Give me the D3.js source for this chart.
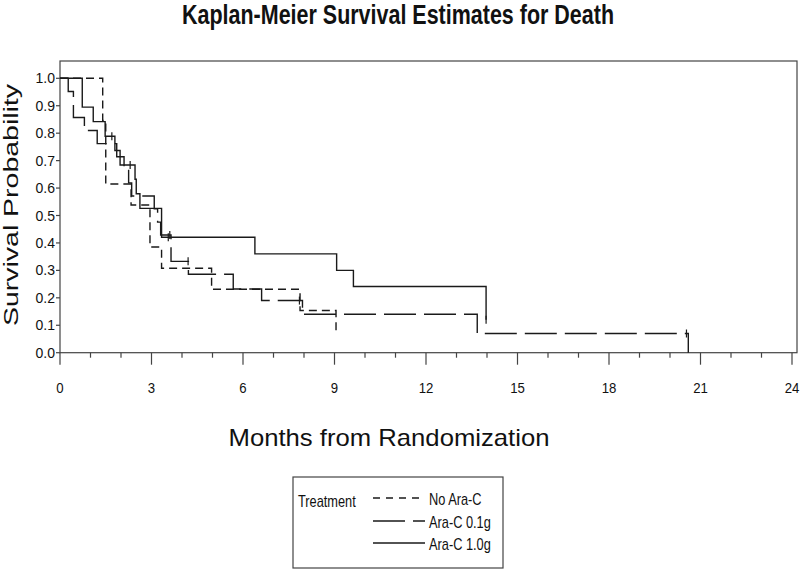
<!DOCTYPE html>
<html>
<head>
<meta charset="utf-8">
<script src="https://cdn.jsdelivr.net/npm/d3@7"></script>
<style>
  html, body { margin: 0; padding: 0; background: #fff; }
  svg { display: block; }
  text { font-family: "Liberation Sans", Arial, sans-serif; fill: #111; }
</style>
</head>
<body>
<svg id="chart" width="800" height="569"></svg>
<script>
// ---- data ----
const seriesNames = ["No Ara-C", "Ara-C 0.1g", "Ara-C 1.0g"];

const noAraTimes = [0, 1.40, 1.50, 2.33, 2.95, 3.33, 4.97, 7.87, 9.05];
const noAraSurv  = [1.0, 0.846, 0.615, 0.538, 0.385, 0.308, 0.231, 0.154, 0.077];
const noAraCens  = [];

const low01Times = [0, 0.27, 0.44, 0.80, 1.22, 1.86, 2.10, 2.25, 2.35, 3.09, 3.20, 3.30, 3.64, 4.21, 5.68, 6.61, 7.95, 13.68, 20.60];
const low01Surv  = [1.0, 0.952, 0.857, 0.810, 0.762, 0.714, 0.667, 0.619, 0.571, 0.524, 0.476, 0.429, 0.333, 0.286, 0.232, 0.190, 0.140, 0.070, 0.0];
const low01Cens  = [3.60, 4.20, 7.85, 20.54];

const high10Times = [0, 0.73, 1.09, 1.48, 1.80, 1.97, 2.46, 2.50, 2.62, 3.33, 6.39, 9.07, 9.62, 13.97];
const high10Surv  = [1.0, 0.895, 0.842, 0.789, 0.737, 0.684, 0.632, 0.579, 0.526, 0.421, 0.360, 0.300, 0.241, 0.120];
const high10Cens  = [1.70, 2.30, 3.55, 13.97];

const xMajorTicks = [0, 3, 6, 9, 12, 15, 18, 21, 24];
const xMinorTicks = d3.range(0, 25, 1);
const yTicks = [0, 0.1, 0.2, 0.3, 0.4, 0.5, 0.6, 0.7, 0.8, 0.9, 1.0];

const titleText = "Kaplan-Meier Survival Estimates for Death";
const xTitleText = "Months from Randomization";
const yTitleText = "Survival Probability";
const legendTitle = "Treatment";

// ---- layout ----
const svg = d3.select("#chart");
const x = d3.scaleLinear().domain([0, 24]).range([60, 792]);
const y = d3.scaleLinear().domain([0, 1]).range([352.7, 78.3]);

const frameL = 60, frameR = 797, frameT = 61, frameB = y(0);
const ink = "#1a1a1a";

// frame
svg.append("rect")
  .attr("x", frameL).attr("y", frameT)
  .attr("width", frameR - frameL).attr("height", frameB - frameT)
  .attr("fill", "none").attr("stroke", "#444").attr("stroke-width", 1.2);

// x ticks
svg.append("g").selectAll("line").data(xMinorTicks).join("line")
  .attr("x1", d => x(d)).attr("x2", d => x(d))
  .attr("y1", frameB).attr("y2", d => frameB + (d % 3 === 0 ? 12 : 5))
  .attr("stroke", "#444").attr("stroke-width", 1.2);

svg.append("g").selectAll("text").data(xMajorTicks).join("text")
  .attr("transform", d => `translate(${x(d)},393) scale(0.88,1)`)
  .attr("text-anchor", "middle")
  .attr("font-size", 15)
  .text(d => String(d));

// y ticks
svg.append("g").selectAll("line").data(yTicks).join("line")
  .attr("x1", frameL - 4).attr("x2", frameL)
  .attr("y1", d => y(d)).attr("y2", d => y(d))
  .attr("stroke", "#444").attr("stroke-width", 1.2);

svg.append("g").selectAll("text").data(yTicks).join("text")
  .attr("x", 55).attr("y", d => y(d) + 5)
  .attr("text-anchor", "end")
  .attr("font-size", 14)
  .text(d => d.toFixed(1));

// titles
svg.append("text")
  .attr("x", 398).attr("y", 24)
  .attr("text-anchor", "middle")
  .attr("font-size", 27).attr("font-weight", "bold")
  .attr("textLength", 432).attr("lengthAdjust", "spacingAndGlyphs")
  .text(titleText);

svg.append("text")
  .attr("x", 389).attr("y", 446)
  .attr("text-anchor", "middle")
  .attr("font-size", 24)
  .attr("textLength", 321).attr("lengthAdjust", "spacingAndGlyphs")
  .text(xTitleText);

svg.append("text")
  .attr("transform", "translate(18,205) rotate(-90)")
  .attr("text-anchor", "middle")
  .attr("font-size", 21)
  .attr("textLength", 242).attr("lengthAdjust", "spacingAndGlyphs")
  .text(yTitleText);

// curves
const series = [
  { name: seriesNames[0], times: noAraTimes, surv: noAraSurv, cens: noAraCens, dash: "8,5" },
  { name: seriesNames[1], times: low01Times, surv: low01Surv, cens: low01Cens, dash: "32,8" },
  { name: seriesNames[2], times: high10Times, surv: high10Surv, cens: high10Cens, dash: null }
];

const line = d3.line().x(d => x(d[0])).y(d => y(d[1])).curve(d3.curveStepAfter);

function survAt(s, t) {
  let v = s.surv[0];
  for (let i = 0; i < s.times.length; i++) if (s.times[i] <= t) v = s.surv[i];
  return v;
}

series.forEach(s => {
  const pts = s.times.map((t, i) => [t, s.surv[i]]);
  svg.append("path")
    .attr("d", line(pts))
    .attr("fill", "none")
    .attr("stroke", ink)
    .attr("stroke-width", 1.4)
    .attr("stroke-dasharray", s.dash);
  svg.append("g").selectAll("line").data(s.cens).join("line")
    .attr("x1", d => x(d)).attr("x2", d => x(d))
    .attr("y1", d => y(survAt(s, d)) - 4).attr("y2", d => y(survAt(s, d)) + 4)
    .attr("stroke", ink).attr("stroke-width", 1.2);
});

// legend
const lg = svg.append("g");
lg.append("rect")
  .attr("x", 293).attr("y", 477).attr("width", 210).attr("height", 91)
  .attr("fill", "none").attr("stroke", "#444").attr("stroke-width", 1.2);
lg.append("text")
  .attr("transform", "translate(298,507) scale(0.8,1)")
  .attr("font-size", 16)
  .text(legendTitle);
const rowY = [498, 521, 543];
series.forEach((s, i) => {
  lg.append("line")
    .attr("x1", 373).attr("x2", 425)
    .attr("y1", rowY[i]).attr("y2", rowY[i])
    .attr("stroke", ink).attr("stroke-width", 1.3)
    .attr("stroke-dasharray", i === 0 ? "7,6" : s.dash);
  lg.append("text")
    .attr("transform", `translate(429,${rowY[i] + 7}) scale(0.8,1)`)
    .attr("font-size", 16)
    .text(s.name);
});
</script>
</body>
</html>
